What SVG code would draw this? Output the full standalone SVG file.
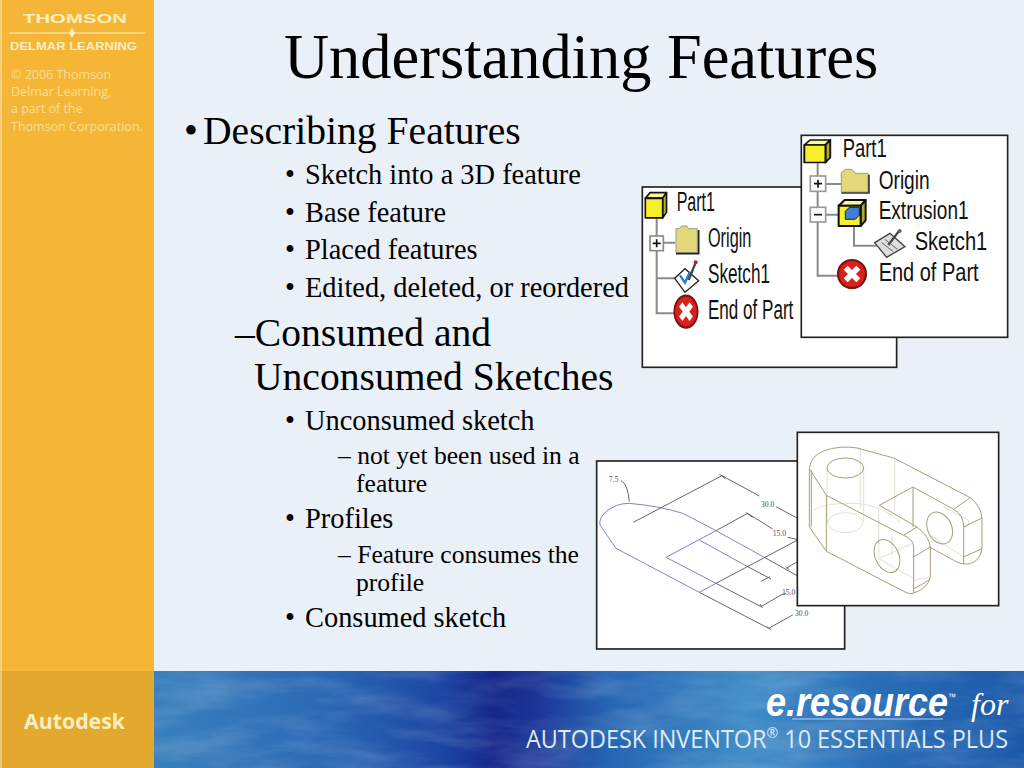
<svg xmlns="http://www.w3.org/2000/svg" width="1024" height="768" viewBox="0 0 1024 768">
<style>
.s{font-family:"Liberation Serif",serif;fill:#000}
.t{font-size:28.4px}.u{font-size:39.6px}.v{font-size:25.6px}
.o{font-family:"Open Sans","Liberation Sans",sans-serif;fill:#fbdf95;font-size:12.5px}
.lbl{font-family:"Liberation Sans",sans-serif;fill:#111}
.l1{font-size:84px}.l2{font-size:76px}
.win{fill:#fff;stroke:#222;stroke-width:5}
.tr{fill:none;stroke:#8a8a8a;stroke-width:6}
.cad{fill:none;stroke:#a5a078;stroke-width:3}
.cadl{fill:none;stroke:#e2e0d2;stroke-width:3}
.b{fill:none;stroke:#7a84d0;stroke-width:3}
.k{fill:none;stroke:#666;stroke-width:3}
.d{font-family:"Liberation Serif",serif;font-size:23px;fill:#555}
.f{fill:#e2d877;stroke:#999;stroke-width:3}
.bar{font-family:"Liberation Sans",sans-serif;font-weight:700;fill:#fdeebf}
.w{font-family:"Open Sans",sans-serif;font-size:25px;fill:#dfeaf6}
</style>
<defs>
<linearGradient id="bl" x1="0" x2="1" y1="0" y2="0">
<stop offset="0" stop-color="#3a80bd"/><stop offset=".2" stop-color="#2a68b4"/><stop offset=".33" stop-color="#1c46a2"/><stop offset=".39" stop-color="#16288a"/><stop offset=".44" stop-color="#1a3596"/><stop offset=".52" stop-color="#2664b2"/><stop offset=".68" stop-color="#3f8cc6"/><stop offset=".82" stop-color="#2a6fb8"/><stop offset="1" stop-color="#1c58a8"/>
</linearGradient>
<filter id="tex" x="0" y="0" width="1" height="1"><feTurbulence type="fractalNoise" baseFrequency=".012 .05" numOctaves="4" seed="7"/><feColorMatrix values="0 0 0 0 1 0 0 0 0 1 0 0 0 0 1 1.1 0 0 0 -.42"/></filter>
<g id="x"><circle r="20" fill="#d8201c" stroke="#7a1410" stroke-width="3"/><path d="M-9-9 9 9M9-9-9 9" stroke="#fff" stroke-width="8"/></g>
<g id="cube" stroke="#111" stroke-width="4" stroke-linejoin="round"><path d="M0 12 12 0H54L44 12Z" fill="#fbfa9a"/><path d="M44 12 54 0V42L44 54Z" fill="#b4ae24"/><rect y="12" width="44" height="42" fill="#f6f02c"/></g>
</defs>
<rect width="1024" height="768" fill="#e9f0f8"/>
<g id="sidebar">
<rect width="154" height="672" fill="#f5b637"/>
<rect y="671" width="154" height="97" fill="#e2a92e"/>
<rect x="154" y="671" width="870" height="97" fill="url(#bl)"/>
<rect x="154" y="671" width="870" height="97" filter="url(#tex)" opacity=".3"/>
<rect x="0" width="2" height="768" fill="#fff" opacity=".35"/>
<text class="bar" x="23" y="23" font-size="13" textLength="104" lengthAdjust="spacingAndGlyphs">THOMSON</text>
<path d="M9 33H146" stroke="#fdeebf" stroke-width="1"/><path d="M72 28 75 33 72 38 69 33Z" fill="#fdeebf"/>
<text class="bar" x="10" y="50" font-size="10" textLength="127" lengthAdjust="spacingAndGlyphs">DELMAR LEARNING</text>
<text class="o" x="11" y="79">© 2006 Thomson</text>
<text class="o" x="11" y="96">Delmar Learning,</text>
<text class="o" x="11" y="113">a part of the</text>
<text class="o" x="11" y="131">Thomson Corporation.</text>
<text x="24" y="729" style="font-family:'Open Sans',sans-serif;font-weight:700;font-size:21px;fill:#fdeebf" textLength="101" lengthAdjust="spacingAndGlyphs">Autodesk</text>
<text transform="translate(766 716) scale(1 1.12)" style="font-family:'Liberation Sans',sans-serif;font-weight:700;font-style:italic;font-size:36px;fill:#fff">e.resource<tspan font-size="8" font-weight="400" font-style="normal" dy="-14">™</tspan></text>
<text x="971" y="715" style="font-family:'Liberation Serif',serif;font-style:italic;font-size:32px;fill:#fff">for</text>
<path d="M792 719H943" stroke="#b9d2ea" stroke-width="1"/>
<text class="w" x="526" y="748" textLength="482" lengthAdjust="spacingAndGlyphs">AUTODESK INVENTOR<tspan font-size="15" dy="-10">®</tspan><tspan dy="10"> 10 ESSENTIALS PLUS</tspan></text>
</g>
<g id="text">
<text class="s" x="284" y="78" font-size="62.4">Understanding Features</text>
<text class="s u" x="184" y="144">•</text><text class="s u" x="203" y="144">Describing Features</text>
<text class="s t" x="285" y="184">•</text><text class="s t" x="305" y="184">Sketch into a 3D feature</text>
<text class="s t" x="285" y="222">•</text><text class="s t" x="305" y="222">Base feature</text>
<text class="s t" x="285" y="259">•</text><text class="s t" x="305" y="259">Placed features</text>
<text class="s t" x="285" y="297">•</text><text class="s t" x="305" y="297">Edited, deleted, or reordered</text>
<text class="s u" x="235" y="346">–Consumed and</text>
<text class="s u" x="254" y="390">Unconsumed Sketches</text>
<text class="s t" x="285" y="430">•</text><text class="s t" x="305" y="430">Unconsumed sketch</text>
<text class="s v" x="338" y="464">– not yet been used in a</text>
<text class="s v" x="356" y="492">feature</text>
<text class="s t" x="285" y="528">•</text><text class="s t" x="305" y="528">Profiles</text>
<text class="s v" x="338" y="563">– Feature consumes the</text>
<text class="s v" x="356" y="591">profile</text>
<text class="s t" x="285" y="627">•</text><text class="s t" x="305" y="627">Consumed sketch</text>
</g>
<g id="tree1" transform="translate(640 130) scale(.3333)">
<rect class="win" x="7" y="171" width="763" height="541"/>
<path class="tr" d="M50 265V550H105M50 445H105M70 338H105"/>
<rect x="30" y="318" width="40" height="44" fill="#fff" stroke="#8a8a8a" stroke-width="5"/>
<path d="M38 340H62M50 328V352" stroke="#111" stroke-width="5"/>
<use href="#cube" transform="translate(16 188) scale(1.18 1.4)"/>
<path class="f" d="M108 368V296H118L125 288H140L146 296H172V368Z"/><path d="M108 371H176V300" fill="none" stroke="#222" stroke-width="5"/>
<path d="M104 445 135 416 176 452 135 487Z" fill="#fff" stroke="#222" stroke-width="4"/>
<path d="M120 436 135 458 150 425" fill="none" stroke="#2f78c8" stroke-width="7"/>
<path d="M146 450 166 400" stroke="#444" stroke-width="7"/><circle cx="167" cy="397" r="6" fill="#c02020"/>
<use href="#x" transform="translate(138 545) scale(1.75 2.4)"/>
<text class="lbl l1" x="110" y="243" textLength="115" lengthAdjust="spacingAndGlyphs">Part1</text>
<text class="lbl l1" x="204" y="352" textLength="130" lengthAdjust="spacingAndGlyphs">Origin</text>
<text class="lbl l1" x="204" y="460" textLength="186" lengthAdjust="spacingAndGlyphs">Sketch1</text>
<text class="lbl l1" x="204" y="567" textLength="256" lengthAdjust="spacingAndGlyphs">End of Part</text>
</g>
<g id="tree2" transform="translate(640 130) scale(.3333)">
<rect class="win" x="484" y="16" width="619" height="606"/>
<path class="tr" d="M533 100V437H600M533 162H605M533 254H600M642 290V347H710"/>
<rect x="511" y="138" width="46" height="46" fill="#fff" stroke="#999" stroke-width="5"/>
<path d="M522 161H546M534 149V173" stroke="#111" stroke-width="5"/>
<rect x="511" y="232" width="46" height="44" fill="#fff" stroke="#999" stroke-width="5"/>
<path d="M522 254H546" stroke="#111" stroke-width="5"/>
<use href="#cube" transform="translate(493 30) scale(1.44 1.25)"/>
<path class="f" d="M604 186V128L616 118H636L646 130H684V186Z"/><path d="M604 189H687V134" fill="none" stroke="#333" stroke-width="5"/>
<use href="#cube" transform="translate(596 210) scale(1.5 1.45)"/>
<path d="M616 244 628 232H658V256L646 268H616Z" fill="#3f7fd6" stroke="#123" stroke-width="3"/>
<path d="M704 338 750 310 795 350 740 382Z" fill="#ddd" stroke="#444" stroke-width="4"/>
<path d="M745 345 778 302" stroke="#444" stroke-width="7"/><circle cx="779" cy="303" r="6" fill="#666"/>
<path d="M725 338 760 365M735 328 772 358" stroke="#666" stroke-width="3"/>
<use href="#x" transform="translate(636 432) scale(2.1)"/>
<text class="lbl l2" x="608" y="81" textLength="132" lengthAdjust="spacingAndGlyphs">Part1</text>
<text class="lbl l2" x="716" y="177" textLength="153" lengthAdjust="spacingAndGlyphs">Origin</text>
<text class="lbl l2" x="716" y="267" textLength="270" lengthAdjust="spacingAndGlyphs">Extrusion1</text>
<text class="lbl l2" x="824" y="360" textLength="218" lengthAdjust="spacingAndGlyphs">Sketch1</text>
<text class="lbl l2" x="716" y="453" textLength="300" lengthAdjust="spacingAndGlyphs">End of Part</text>
</g>
<g id="sketch" transform="translate(596 460) scale(.3333)">
<rect class="win" x="2" y="3" width="744" height="564"/>
<path class="b" d="M100 130Q60 130 30 155 8 175 12 195L60 265 310 397 360 370M100 130Q190 138 260 160 300 180 360 212L505 292M210 292 360 212M310 240 455 320M210 292 360 370"/>
<path class="k" d="M112 187 378 47 490 108M540 140 605 175M360 212 455 160 530 207M575 232 610 240M360 370 605 240M505 292 605 348M455 320 525 357M360 370 495 440 555 405 570 400M310 397 518 505 590 465M570 325 605 305M75 62Q95 70 100 125M370 42 388 56M450 158 470 172M492 432 500 444M512 500 526 510M496 364 522 350M570 320 580 330"/>
<text class="d" x="38" y="66">7.5</text><text class="d" x="495" y="141">30.0</text><text class="d" x="530" y="229">15.0</text><text class="d" x="558" y="404">15.0</text><text class="d" x="597" y="467">30.0</text>
</g>
<g id="solid" transform="translate(797 432) scale(.3333)">
<rect class="win" x="1" y="1" width="604" height="520"/>
<path class="cadl" d="M90 108V270M200 108V270M190 48V230M293 80V235M50 235Q80 210 190 215 260 225 310 270M93 272A52 30 0 0 0 197 272A52 30 0 0 0 93 272ZM245 225V380L350 440M245 380 345 335M285 310V370M440 225 515 265Q515 290 500 285M400 310 500 375M350 445 400 435"/>
<path class="cad" d="M37 110Q40 70 85 55 130 40 180 48L290 78 520 197Q552 222 555 258V350Q550 385 520 395 495 400 470 385L398 345M37 110V285L88 358 330 483Q345 487 350 483 392 470 400 435V345Q395 310 360 285M37 110 88 190 320 310Q350 322 350 345M43 115V285M88 190V358M247 220 348 165 470 232Q500 248 500 285M470 232 520 197M348 165V285M247 220 360 285 320 310M350 345V483M350 375 400 345M352 470 400 442M500 285V395M500 285 555 258M500 375 555 350M90 108A55 30 0 0 1 200 108A55 30 0 0 1 90 108Z"/>
<ellipse class="cad" cx="270" cy="372" rx="35" ry="52" transform="rotate(-25 270 372)"/>
<ellipse class="cad" cx="428" cy="288" rx="36" ry="50" transform="rotate(-25 428 288)"/>
</g>
</svg>
